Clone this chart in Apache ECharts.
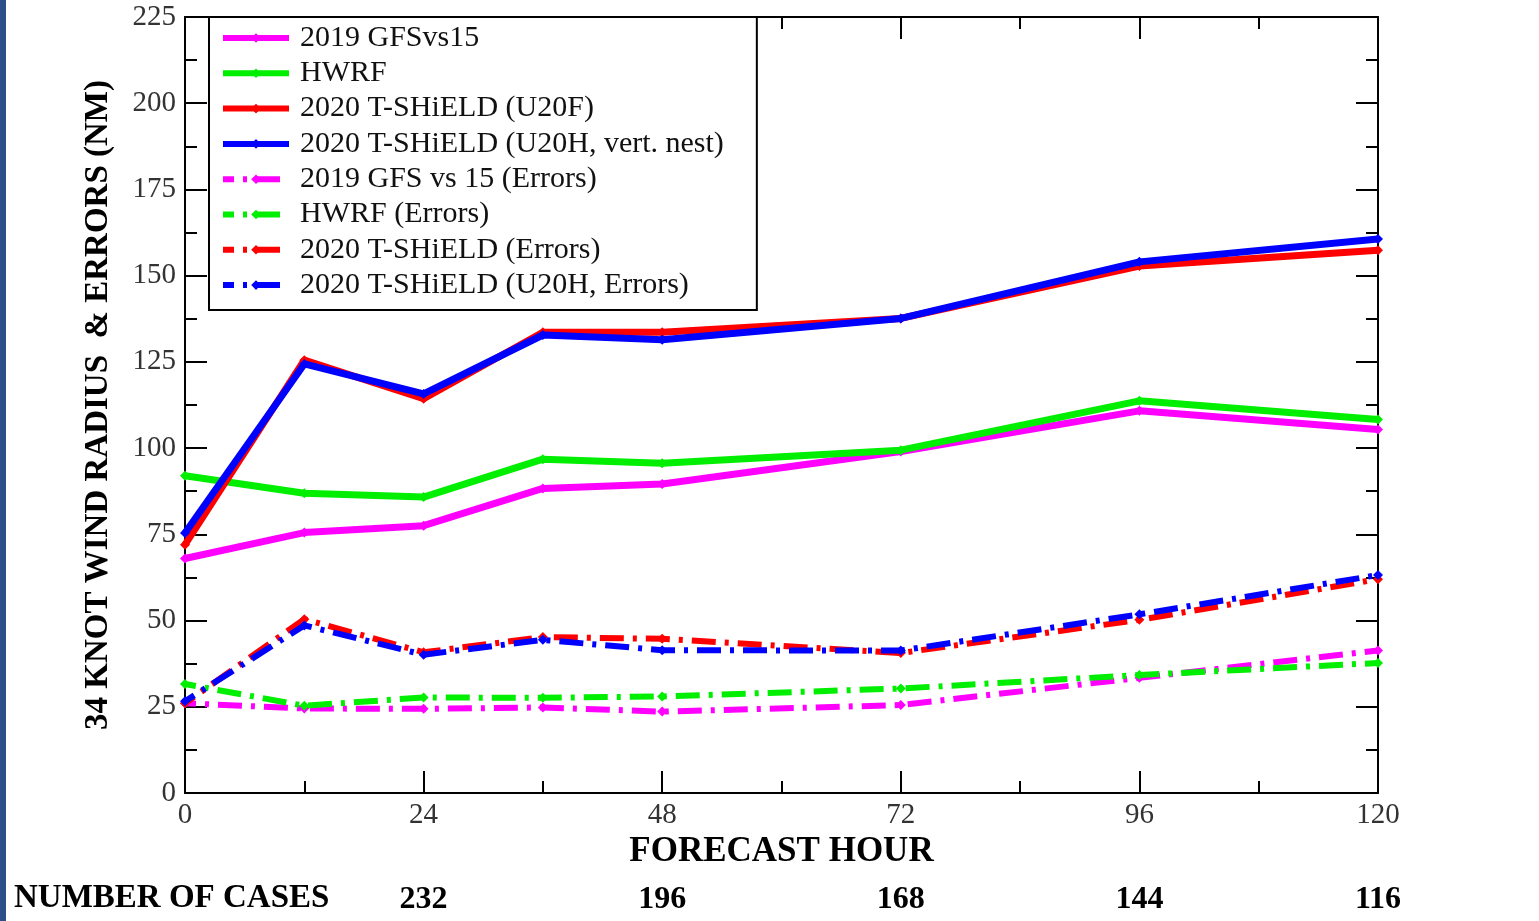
<!DOCTYPE html>
<html>
<head>
<meta charset="utf-8">
<script src="https://cdn.jsdelivr.net/npm/echarts@6/dist/echarts.min.js"></script>
<style>
  html, body { margin: 0; padding: 0; background: #fff; }
  #chart { width: 1539px; height: 921px; }
</style>
</head>
<body>
<div id="chart"></div>
<script>
// forecast hours and values
const hours = [0, 12, 24, 36, 48, 72, 96, 120];

const gfsRadius    = [68, 75.5, 77.5, 88.3, 89.6, 99, 110.8, 105.4];
const hwrfRadius   = [92, 86.9, 85.8, 96.8, 95.6, 99.4, 113.7, 108.3];
const shieldRadius = [72, 125.5, 114.3, 133.6, 133.6, 137.6, 152.8, 157.4];
const u20hRadius   = [75.4, 124.4, 115.7, 132.8, 131.4, 137.6, 154, 160.6];

const gfsErr    = [26, 24.5, 24.4, 24.8, 23.6, 25.5, 33.4, 41.3];
const hwrfErr   = [31.6, 25.3, 27.7, 27.6, 28, 30.3, 34.2, 37.7];
const shieldErr = [26, 50.4, 40.8, 45.2, 44.7, 40.6, 50.2, 62];
const u20hErr   = [26.6, 48.6, 40.1, 44.4, 41.4, 41.3, 51.8, 63.2];

const caseHours = [24, 48, 72, 96, 120];
const cases     = [232, 196, 168, 144, 116];

const names = [
    '2019 GFSvs15',
    'HWRF',
    '2020 T-SHiELD (U20F)',
    '2020 T-SHiELD (U20H, vert. nest)',
    '2019 GFS vs 15 (Errors)',
    'HWRF (Errors)',
    '2020 T-SHiELD (Errors)',
    '2020 T-SHiELD (U20H, Errors)'
];
const colors = ['#ff00ff', '#00ee00', '#ff0000', '#0000ff', '#ff00ff', '#00ee00', '#ff0000', '#0000ff'];
const values = [gfsRadius, hwrfRadius, shieldRadius, u20hRadius, gfsErr, hwrfErr, shieldErr, u20hErr];

const serif = '"Liberation Serif", "DejaVu Serif", serif';

const chart = echarts.init(document.getElementById('chart'));

const series = values.map(function (vals, i) {
    const dashed = i >= 4;
    return {
        name: names[i],
        type: 'line',
        xAxisIndex: 0,
        yAxisIndex: 0,
        data: hours.map(function (h, k) { return [h, vals[k]]; }),
        symbol: 'diamond',
        symbolSize: 10,
        showSymbol: true,
        itemStyle: { color: colors[i] },
        lineStyle: {
            color: colors[i],
            width: dashed ? 6 : 7,
            type: dashed ? [24, 9, 4, 9] : 'solid',
            dashOffset: dashed ? 13 : 0
        },
        z: 2 + (i % 4),
        animation: false
    };
});

const tickStyle = { color: '#000', width: 2 };

function frameAxis(extra) {
    return Object.assign({
        type: 'value',
        axisLine: { show: true, onZero: false, lineStyle: tickStyle },
        axisTick: { show: true, inside: true, length: 22, lineStyle: tickStyle },
        minorTick: { show: true, splitNumber: 2, length: 12, lineStyle: tickStyle },
        splitLine: { show: false },
        minorSplitLine: { show: false }
    }, extra);
}

const labelStyle = { color: '#333', fontFamily: serif, fontSize: 29 };

const option = {
    backgroundColor: '#fff',
    textStyle: { fontFamily: serif },
    grid: { left: 185, right: 161, top: 17, bottom: 128, containLabel: false },
    legend: {
        orient: 'vertical',
        left: 209,
        top: 17,
        padding: [6, 33, 10, 11],
        itemWidth: 66,
        itemHeight: 12,
        itemGap: 5.3,
        borderColor: '#000',
        borderWidth: 2,
        backgroundColor: '#fff',
        lineStyle: { width: 6 },
        data: names,
        textStyle: { fontFamily: serif, fontSize: 30, color: '#111', lineHeight: 30, padding: [0, 0, 0, 6] }
    },
    xAxis: [
        frameAxis({
            position: 'bottom', min: 0, max: 120, interval: 24,
            name: 'FORECAST HOUR', nameLocation: 'middle', nameGap: 40,
            nameTextStyle: { fontFamily: serif, fontSize: 35, fontWeight: 'bold', color: '#000' },
            axisLabel: Object.assign({ margin: 8 }, labelStyle)
        }),
        frameAxis({
            position: 'top', min: 0, max: 120, interval: 24,
            axisLabel: { show: false }
        }),
        {
            type: 'value', position: 'bottom', offset: 86, min: 0, max: 120, interval: 24,
            axisLine: { show: false }, axisTick: { show: false }, splitLine: { show: false },
            axisLabel: {
                margin: 5, fontFamily: serif, fontSize: 32, fontWeight: 'bold', color: '#000',
                formatter: function (v) {
                    const k = caseHours.indexOf(v);
                    return k < 0 ? '' : String(cases[k]);
                }
            }
        }
    ],
    yAxis: [
        frameAxis({
            position: 'left', min: 0, max: 225, interval: 25,
            name: '34 KNOT WIND RADIUS  & ERRORS (NM)', nameLocation: 'middle', nameGap: 70,
            nameTextStyle: { fontFamily: serif, fontSize: 33, fontWeight: 'bold', color: '#000' },
            axisLabel: Object.assign({ margin: 9 }, labelStyle)
        }),
        frameAxis({
            position: 'right', min: 0, max: 225, interval: 25,
            axisLabel: { show: false }
        })
    ],
    graphic: [
        { type: 'rect', left: 0, top: 0, shape: { width: 6, height: 921 }, style: { fill: '#2b4f86' }, z: 100 },
        {
            type: 'text', left: 14, top: 882,
            style: { text: 'NUMBER OF CASES', font: 'bold 33px ' + serif, fill: '#000' }
        }
    ],
    series: series
};

chart.setOption(option);
</script>
</body>
</html>
